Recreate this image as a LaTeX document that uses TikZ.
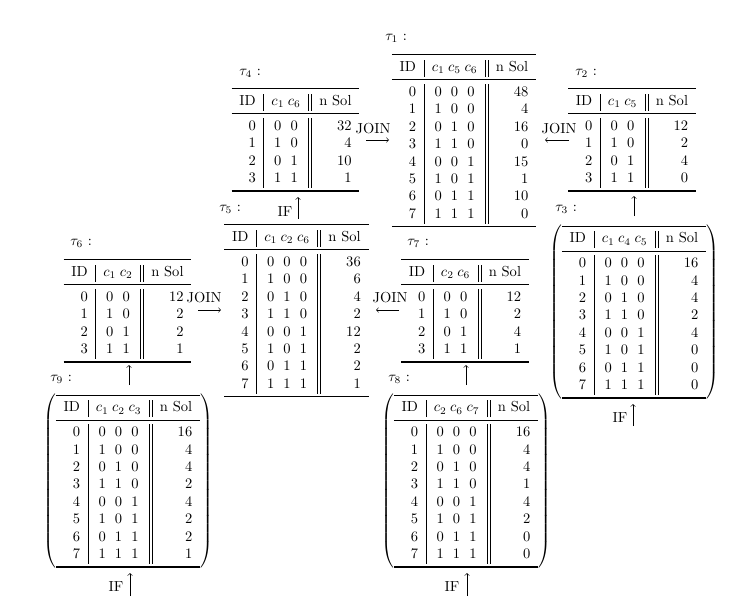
\documentclass[tikz,border=0pt]{standalone}
\usepackage{booktabs}
\setlength{\tabcolsep}{5.4pt}
\newcommand{\mytblthree}[9]{\begin{tabular}{r|c@{\hspace{2.5pt}}c@{\hspace{2.5pt}}c||r}\toprule ID & #1 & n Sol\\\midrule
0&0&0&0&#2\\ 1&1&0&0&#3\\ 2&0&1&0&#4\\ 3&1&1&0&#5\\ 4&0&0&1&#6\\ 5&1&0&1&#7\\ 6&0&1&1&#8\\ 7&1&1&1&#9\\\bottomrule\end{tabular}}
\newcommand{\mytbltwo}[5]{\begin{tabular}{r|c@{\hspace{2.5pt}}c||r}\toprule ID & #1 & n Sol\\\midrule
0&0&0&#2\\ 1&1&0&#3\\ 2&0&1&#4\\ 3&1&1&#5\\\bottomrule\end{tabular}}
\begin{document}
\begin{tikzpicture}[x=0.6887pt,y=-0.6887pt,
  tbl/.style={inner sep=0pt, anchor=north},
  ptbl/.style={inner sep=0pt},
  lbl/.style={inner sep=0pt, anchor=west},
  txt/.style={inner sep=0pt},
  arr/.style={->, line width=0.4pt}]
\useasboundingbox (0,0) rectangle (737,611);
% tables
\node[tbl] (t1) at (464,54) {\mytblthree{$c_1$&$c_5$&$c_6$}{48}{4}{16}{0}{15}{1}{10}{0}};
\node[tbl] (t4) at (295.5,88) {\mytbltwo{$c_1$&$c_6$}{32}{4}{10}{1}};
\node[tbl] (t2) at (632,88) {\mytbltwo{$c_1$&$c_5$}{12}{2}{4}{0}};
\node[tbl] (t5) at (296.5,224) {\mytblthree{$c_1$&$c_2$&$c_6$}{36}{6}{4}{2}{12}{2}{2}{1}};
\node[tbl] (t6) at (127.5,259) {\mytbltwo{$c_1$&$c_2$}{12}{2}{2}{1}};
\node[tbl] (t7) at (465,259) {\mytbltwo{$c_2$&$c_6$}{12}{2}{4}{1}};
\node[ptbl] (t3) at (634,312) {$\left(\mytblthree{$c_1$&$c_4$&$c_5$}{16}{4}{4}{2}{4}{0}{0}{0}\right)$};
\node[ptbl] (t9) at (128,481) {$\left(\mytblthree{$c_1$&$c_2$&$c_3$}{16}{4}{4}{2}{4}{2}{2}{1}\right)$};
\node[ptbl] (t8) at (466,481) {$\left(\mytblthree{$c_2$&$c_6$&$c_7$}{16}{4}{4}{1}{4}{2}{0}{0}\right)$};
% labels
\node[lbl] (l1) at (385,38) {$\tau_1$ :};
\node[lbl] (l4) at (239,73) {$\tau_4$ :};
\node[lbl] (l2) at (575,73) {$\tau_2$ :};
\node[lbl] (l3) at (555,209) {$\tau_3$ :};
\node[lbl] (l5) at (219,209) {$\tau_5$ :};
\node[lbl] (l6) at (70,243) {$\tau_6$ :};
\node[lbl] (l7) at (407,243) {$\tau_7$ :};
\node[lbl] (l9) at (50,379) {$\tau_9$ :};
\node[lbl] (l8) at (388,379) {$\tau_8$ :};
% IF labels
\node[txt] (if5) at (285,212) {IF};
\node[txt] (if3) at (620,418) {IF};
\node[txt] (if9) at (116,587) {IF};
\node[txt] (if8) at (452,587) {IF};
% JOIN labels
\node[txt] (j41) at (373,129) {JOIN};
\node[txt] (j21) at (559,129) {JOIN};
\node[txt] (j65) at (204,298) {JOIN};
\node[txt] (j75) at (390,298) {JOIN};
% arrow coordinates
\coordinate (a5s) at (298,219); \coordinate (a5e) at (298,197);
\coordinate (a3s) at (633,426); \coordinate (a3e) at (633,404);
\coordinate (a9s) at (130,596); \coordinate (a9e) at (130,573);
\coordinate (a8s) at (467,596); \coordinate (a8e) at (467,573);
\coordinate (u32s) at (634,216); \coordinate (u32e) at (634,196);
\coordinate (u96s) at (129,385); \coordinate (u96e) at (129,365);
\coordinate (u87s) at (466,385); \coordinate (u87e) at (466,365);
\coordinate (r41s) at (366,140); \coordinate (r41e) at (389,140);
\coordinate (r21s) at (569,140); \coordinate (r21e) at (545,140);
\coordinate (r65s) at (198,310); \coordinate (r65e) at (221,310);
\coordinate (r75s) at (399,310); \coordinate (r75e) at (376,310);
\foreach \s/\e in {a5s/a5e,a3s/a3e,a9s/a9e,a8s/a8e,u32s/u32e,u96s/u96e,u87s/u87e,r41s/r41e,r21s/r21e,r65s/r65e,r75s/r75e}
  \draw[arr] (\s) -- (\e);
\end{tikzpicture}
\end{document}
